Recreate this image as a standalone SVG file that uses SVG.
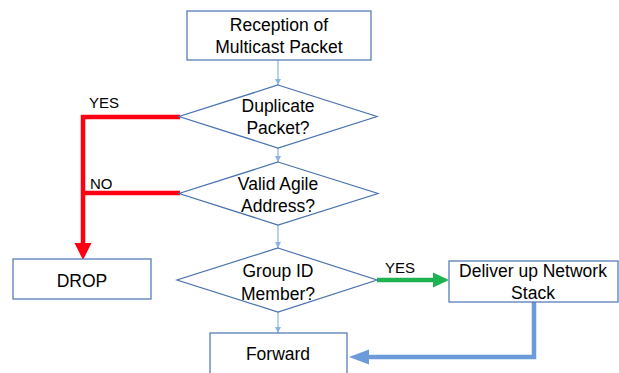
<svg xmlns="http://www.w3.org/2000/svg" width="619" height="373" viewBox="0 0 619 373">
  <style>
    .node { fill: #ffffff; stroke: #4a72b0; stroke-width: 1.2; }
    .txt { font-family: "Liberation Sans", Arial, sans-serif; font-size: 17.5px; fill: #000000; text-anchor: middle; }
    .lbl { font-family: "Liberation Sans", Arial, sans-serif; font-size: 15px; fill: #000000; }
    .thin { stroke: #8cb2e2; stroke-width: 1.2; fill: none; }
  </style>
  <defs>
    <marker id="tip" viewBox="0 0 10 10" refX="10" refY="5" markerWidth="6" markerHeight="6" markerUnits="userSpaceOnUse" orient="auto">
      <path d="M0,0 L10,5 L0,10 Z" fill="#8cb2e2"/>
    </marker>
  </defs>
  <rect width="619" height="373" fill="#ffffff"/>

  <!-- connectors -->
  <g id="connectors">
    <line class="thin" x1="278" y1="60" x2="278" y2="85" marker-end="url(#tip)"/>
    <line class="thin" x1="278" y1="148" x2="278" y2="162" marker-end="url(#tip)"/>
    <line class="thin" x1="278" y1="225" x2="278" y2="248" marker-end="url(#tip)"/>
    <line class="thin" x1="278" y1="312" x2="278" y2="333" marker-end="url(#tip)"/>

    <!-- drop paths -->
    <polyline points="180,117 83,117 83,244" fill="none" stroke="#ff0013" stroke-width="4.5"/>
    <line x1="83" y1="193" x2="180" y2="193" stroke="#ff0013" stroke-width="4.5"/>
    <polygon points="74.5,243 91.5,243 83,260" fill="#ff0013"/>

    <!-- deliver path -->
    <line x1="377" y1="280" x2="434" y2="280" stroke="#1eb350" stroke-width="4.5"/>
    <polygon points="433,272.5 433,287.5 449,280" fill="#1eb350"/>

    <!-- return to forward -->
    <polyline points="534,302 534,357 367,357" fill="none" stroke="#6b9bd9" stroke-width="4.5"/>
    <polygon points="369,349.5 369,364.5 349,357" fill="#6b9bd9"/>

    <text class="lbl" x="89" y="108">YES</text>
    <text class="lbl" x="90" y="189">NO</text>
    <text class="lbl" x="385" y="273">YES</text>
  </g>

  <g id="reception">
    <rect class="node" x="187" y="11" width="184" height="49"/>
    <text class="txt" x="279" y="31">Reception of</text>
    <text class="txt" x="279" y="53">Multicast Packet</text>
  </g>

  <g id="duplicate">
    <polygon class="node" points="278,85 377,116.5 278,148 179,116.5"/>
    <text class="txt" x="278" y="112">Duplicate</text>
    <text class="txt" x="278" y="134">Packet?</text>
  </g>

  <g id="valid">
    <polygon class="node" points="278,162 378,193.5 278,225 179,193.5"/>
    <text class="txt" x="278" y="190">Valid Agile</text>
    <text class="txt" x="278" y="212">Address?</text>
  </g>

  <g id="group">
    <polygon class="node" points="278,248 377,280 278,312 177,280"/>
    <text class="txt" x="278" y="277">Group ID</text>
    <text class="txt" x="278" y="300">Member?</text>
  </g>

  <g id="drop">
    <rect class="node" x="13" y="259" width="138" height="40"/>
    <text class="txt" x="82" y="287">DROP</text>
  </g>

  <g id="deliver">
    <rect class="node" x="449" y="261" width="169" height="41"/>
    <text class="txt" x="533" y="277">Deliver up Network</text>
    <text class="txt" x="533" y="299">Stack</text>
  </g>

  <g id="forward">
    <rect class="node" x="210" y="333" width="137" height="42"/>
    <text class="txt" x="278" y="360">Forward</text>
  </g>
</svg>
